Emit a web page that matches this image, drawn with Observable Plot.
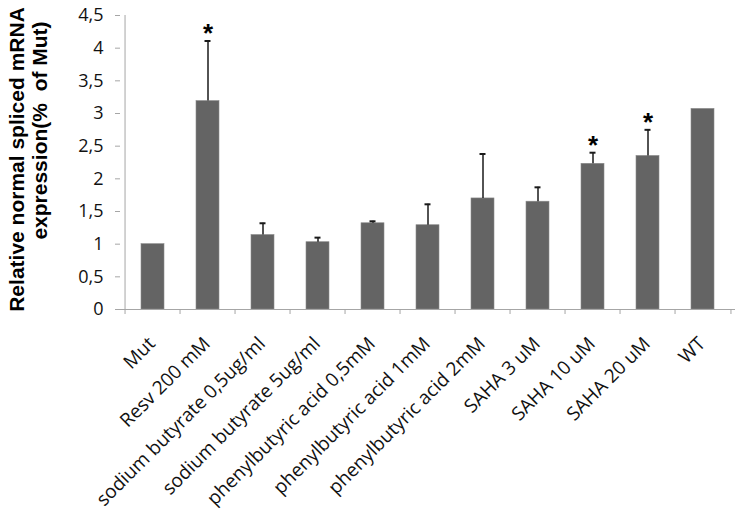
<!DOCTYPE html>
<html>
<head>
<meta charset="utf-8">
<script src="https://cdn.jsdelivr.net/npm/d3@7"></script>
<script src="https://cdn.jsdelivr.net/npm/@observablehq/plot@0.6"></script>
<style>
  html, body { margin: 0; padding: 0; background: #fff; }
  #chart svg { display: block; }
</style>
</head>
<body>
<div id="chart"></div>
<script>
const categories = [
  "Mut", "Resv 200 mM", "sodium butyrate 0,5ug/ml", "sodium butyrate 5ug/ml",
  "phenylbutyric acid 0,5mM", "phenylbutyric acid 1mM", "phenylbutyric acid 2mM",
  "SAHA 3 uM", "SAHA 10 uM", "SAHA 20 uM", "WT"
];
const means = [1.00, 3.19, 1.14, 1.03, 1.32, 1.29, 1.70, 1.65, 2.23, 2.35, 3.07];
const errorTops = [null, 4.11, 1.32, 1.10, 1.35, 1.61, 2.38, 1.87, 2.40, 2.75, null];
const significant = [false, true, false, false, false, false, false, false, true, true, false];
const yTicks = [0, 0.5, 1, 1.5, 2, 2.5, 3, 3.5, 4, 4.5];
const yTitle = ["Relative normal spliced mRNA", "expression(%  of Mut)"];

const rows = categories.map((c, i) => ({cat: c, mean: means[i], top: errorTops[i], sig: significant[i]}));
const errRows = rows.filter(d => d.top != null);
const sigRows = rows.filter(d => d.sig);

const W = 742, H = 511, ML = 120, MR = 7, MT = 15, MB = 202;
const step = (W - ML - MR) / categories.length;
const axisGray = "#a6a6a6";
const labelFont = "'Open Sans', sans-serif";
const titleFont = "'Liberation Sans', Arial, sans-serif";

const chart = Plot.plot({
  width: W,
  height: H,
  marginLeft: ML,
  marginRight: MR,
  marginTop: MT,
  marginBottom: MB,
  style: {background: "#fff", fontFamily: labelFont},
  x: {type: "band", domain: categories, paddingInner: 0.58, paddingOuter: 0.29, axis: null},
  y: {domain: [0, 4.5], axis: null},
  marks: [
    Plot.axisY({
      ticks: yTicks, tickSize: 5, tickPadding: 12, stroke: axisGray, fill: "#111",
      fontSize: 18, tickFormat: d => String(d).replace(".", ","), label: null
    }),
    Plot.barY(rows, {x: "cat", y: "mean", fill: "#646464", stroke: "#8a8a8a", strokeWidth: 0.6}),
    Plot.ruleX(errRows, {x: "cat", y1: "mean", y2: "top", stroke: "#1a1a1a", strokeWidth: 1.5}),
    Plot.tickY(errRows, {x: "cat", y: "top", stroke: "#1a1a1a", strokeWidth: 2, insetLeft: 8.5, insetRight: 8.5}),
    Plot.text(sigRows, {x: "cat", y: "top", text: () => "*", fontSize: 26, fontWeight: "bold",
      fontFamily: titleFont, fill: "#000", lineAnchor: "top", dy: -17}),
    // axis lines
    Plot.ruleY([0], {stroke: axisGray, strokeWidth: 1}),
    Plot.ruleX([categories[0]], {x: d => d, dx: -step / 2, y1: 0, y2: 4.5, stroke: axisGray}),
    // x boundary ticks
    Plot.ruleX(categories, {x: d => d, dx: -step / 2, y1: 0, y2: 0, insetBottom: -5, stroke: axisGray}),
    Plot.ruleX([categories[categories.length - 1]], {x: d => d, dx: step / 2, y1: 0, y2: 0, insetBottom: -5, stroke: axisGray}),
    // x tick labels
    Plot.text(categories, {x: d => d, y: () => 0, text: d => d, rotate: -45, textAnchor: "end",
      lineAnchor: "middle", dx: -1, dy: 31, fontSize: 19, fill: "#111", fontFamily: labelFont}),
    // y title
    Plot.text([yTitle[0]], {frameAnchor: "left", text: d => d, rotate: -90, textAnchor: "middle", dx: -103, dy: -3,
      fontSize: 21, fontWeight: "bold", fill: "#000", fontFamily: titleFont}),
    Plot.text([yTitle[1]], {frameAnchor: "left", text: d => d, rotate: -90, textAnchor: "middle", dx: -80, dy: -32,
      fontSize: 21, fontWeight: "bold", fill: "#000", fontFamily: titleFont})
  ]
});
document.getElementById("chart").appendChild(chart);
</script>
</body>
</html>
